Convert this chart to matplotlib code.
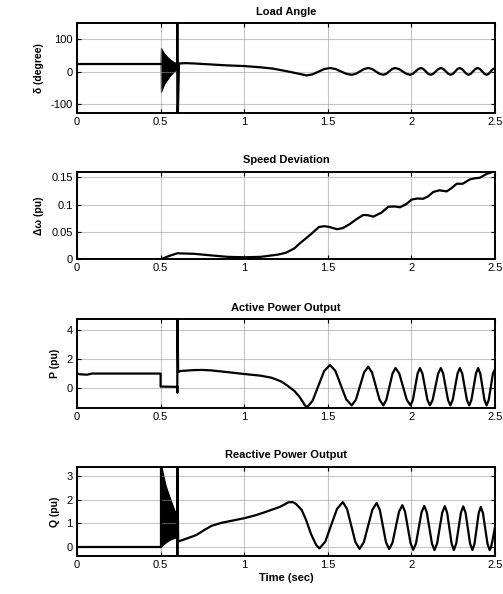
import matplotlib
matplotlib.use("Agg")
import matplotlib.pyplot as plt

plt.rcParams['font.family'] = ['Liberation Sans', 'DejaVu Sans']

# ---------------- data ----------------
x_ticks = [0, 0.5, 1, 1.5, 2, 2.5]
x_tick_labels = ["0", "0.5", "1", "1.5", "2", "2.5"]

titles = ["Load Angle", "Speed Deviation", "Active Power Output", "Reactive Power Output"]
ylabels = ["\u03b4 (degree)", "\u0394\u03c9 (pu)", "P (pu)", "Q (pu)"]
xlabel = "Time (sec)"

# Load angle
delta_t_pre = [0, 0.5]
delta_pre = [24, 24]
delta_t_fault = [0.5, 0.502, 0.52, 0.54, 0.56, 0.58, 0.6]
delta_fault_hi = [24, 73, 57, 45, 36, 29, 25]
delta_fault_lo = [24, -63, -40, -24, -10, 0, 10]
delta_t_post = [0.6, 0.6, 0.6, 0.61, 0.65, 0.7, 0.8, 0.9, 1.0, 1.1, 1.174, 1.274,
                1.374, 1.409, 1.4435, 1.478, 1.513, 1.5455, 1.578, 1.6105,
                1.643, 1.668, 1.6925, 1.717, 1.742, 1.7645, 1.787, 1.8095,
                1.832, 1.8495, 1.867, 1.8845, 1.902, 1.925, 1.9475, 1.970,
                1.993, 2.009, 2.025, 2.041, 2.057, 2.0715, 2.086, 2.1005,
                2.115, 2.1305, 2.146, 2.1615, 2.177, 2.1915, 2.206, 2.2205,
                2.235, 2.2485, 2.262, 2.2755, 2.289, 2.302, 2.3155, 2.329,
                2.342, 2.3555, 2.369, 2.3825, 2.396, 2.4095, 2.423, 2.4365,
                2.45, 2.4625, 2.475, 2.4875, 2.5]
delta_post = [25, 200, -200, 25, 26, 25, 22, 19, 17, 13, 9, -1,
              -12, -8.6, -0.5, 7.6, 11, 7.9, 0.5, -6.9,
              -10, -6.9, 0.5, 7.9, 11, 7.9, 0.5, -6.9,
              -10, -6.9, 0.5, 7.9, 11, 7.9, 0.5, -6.9,
              -10, -6.9, 0.5, 7.9, 11, 7.9, 0.5, -6.9,
              -10, -6.9, 0.5, 7.9, 11, 7.9, 0.5, -6.9,
              -10, -6.9, 0.5, 7.9, 11, 7.9, 0.5, -6.9,
              -10, -6.9, 0.5, 7.9, 11, 7.9, 0.5, -6.9,
              -10, -6.9, 0.5, 7.9, 10.5]

# Speed deviation
speed_t = [0, 0.5, 0.55, 0.6, 0.65, 0.7, 0.8, 0.9, 1.0, 1.1, 1.2, 1.25, 1.3, 1.334,
           1.4, 1.447, 1.48, 1.51, 1.555, 1.59, 1.63, 1.67, 1.712, 1.74, 1.772, 1.82,
           1.862, 1.9, 1.932, 1.97, 2.001, 2.035, 2.07, 2.1, 2.131, 2.167, 2.211,
           2.24, 2.271, 2.307, 2.35, 2.38, 2.41, 2.45, 2.48, 2.5]
speed = [0, 0, 0.006, 0.011, 0.0105, 0.010, 0.0072, 0.0045, 0.0037, 0.0045, 0.0085,
         0.012, 0.02, 0.0295, 0.046, 0.059, 0.0605, 0.059, 0.055, 0.057, 0.064,
         0.073, 0.081, 0.0805, 0.078, 0.085, 0.096, 0.0965, 0.095, 0.101, 0.109,
         0.111, 0.1105, 0.115, 0.123, 0.126, 0.124, 0.13, 0.138, 0.138, 0.146,
         0.148, 0.149, 0.156, 0.159, 0.161]

# Active power
p_t_pre = [0, 0.02, 0.06, 0.09, 0.5, 0.5, 0.6]
p_pre = [1.0, 0.95, 0.92, 1.0, 1.0, 0.1, 0.08]
p_t_post = [0.6, 0.6, 0.6, 0.605, 0.62, 0.65, 0.7, 0.75, 0.8, 0.9, 1.0, 1.1, 1.164,
            1.224, 1.26, 1.3, 1.33, 1.35, 1.363, 1.374, 1.385, 1.409, 1.4435, 1.478,
            1.513, 1.5455, 1.578, 1.6105, 1.643, 1.668, 1.6925, 1.717,
            1.742, 1.7645, 1.787, 1.8095, 1.832, 1.850, 1.8685, 1.887,
            1.905, 1.9275, 1.95, 1.9725, 1.995, 2.009, 2.023, 2.037,
            2.051, 2.066, 2.081, 2.096, 2.111, 2.127, 2.1435, 2.16,
            2.176, 2.190, 2.2045, 2.219, 2.233, 2.247, 2.2615, 2.276,
            2.29, 2.304, 2.318, 2.332, 2.346, 2.359, 2.3725, 2.386,
            2.399, 2.412, 2.4245, 2.437, 2.45, 2.4625, 2.475, 2.4875, 2.5]
p_post = [0.08, -0.3, 6, 1.1, 1.18, 1.2, 1.24, 1.25, 1.22, 1.1, 0.97, 0.85, 0.71,
          0.44, 0.15, -0.2, -0.6, -0.95, -1.2, -1.3, -1.22, -0.877, 0.145, 1.167,
          1.59, 1.181, 0.195, -0.791, -1.2, -0.809, 0.135, 1.079,
          1.47, 1.079, 0.135, -0.809, -1.2, -0.822, 0.09, 1.002,
          1.38, 1.002, 0.09, -0.822, -1.2, -0.822, 0.09, 1.002,
          1.38, 1.002, 0.09, -0.822, -1.2, -0.822, 0.09, 1.002,
          1.38, 1.002, 0.09, -0.822, -1.2, -0.822, 0.09, 1.002,
          1.38, 1.002, 0.09, -0.822, -1.2, -0.822, 0.09, 1.002,
          1.38, 1.002, 0.09, -0.822, -1.2, -0.822, 0.09, 1.0, 1.3]

# Reactive power
q_t_pre = [0, 0.5, 0.5]
q_pre = [0.03, 0.03, 3.6]
q_t_fault = [0.5, 0.505, 0.516, 0.53, 0.556, 0.586, 0.6]
q_fault_hi = [3.6, 3.4, 3.04, 2.6, 2.06, 1.5, 1.3]
q_fault_lo = [0.0, 0.05, 0.11, 0.2, 0.32, 0.4, 0.45]
q_t_post = [0.6, 0.6, 0.6, 0.605, 0.65, 0.716, 0.76, 0.805, 0.86, 0.915, 1.0, 1.07,
            1.134, 1.214, 1.264, 1.29, 1.31, 1.344, 1.37, 1.40, 1.43,
            1.45, 1.485, 1.52, 1.555, 1.59, 1.615, 1.64, 1.665,
            1.69, 1.7155, 1.741, 1.7665, 1.792, 1.811, 1.8295, 1.848,
            1.867, 1.887, 1.9065, 1.926, 1.946, 1.962, 1.9785, 1.995,
            2.011, 2.0275, 2.044, 2.0605, 2.077, 2.092, 2.1075, 2.123,
            2.138, 2.1535, 2.169, 2.1845, 2.20, 2.2135, 2.227, 2.2405,
            2.254, 2.268, 2.282, 2.296, 2.31, 2.324, 2.3375, 2.351,
            2.365, 2.3775, 2.39, 2.4025, 2.415, 2.428, 2.4415, 2.455,
            2.468, 2.476, 2.484, 2.492, 2.5]
q_post = [0.45, -1, 4, 0.24, 0.35, 0.52, 0.72, 0.9, 1.02, 1.1, 1.22, 1.35,
          1.5, 1.7, 1.89, 1.9, 1.82, 1.57, 1.15, 0.55, 0.1,
          -0.05, 0.236, 0.925, 1.614, 1.9, 1.611, 0.915, 0.219,
          -0.07, 0.213, 0.895, 1.577, 1.86, 1.576, 0.89, 0.204,
          -0.08, 0.191, 0.845, 1.499, 1.77, 1.495, 0.83, 0.165,
          -0.11, 0.161, 0.815, 1.469, 1.74, 1.468, 0.81, 0.152,
          -0.12, 0.151, 0.805, 1.459, 1.73, 1.459, 0.805, 0.151,
          -0.12, 0.15, 0.8, 1.45, 1.72, 1.45, 0.8, 0.15,
          -0.12, 0.147, 0.79, 1.433, 1.7, 1.433, 0.79, 0.147,
          -0.12, 0.0, 0.25, 0.55, 0.85]

y_limits = [(-128, 150), (0, 0.16), (-1.36, 4.75), (-0.37, 3.39)]
y_ticks = [[-100, 0, 100], [0, 0.05, 0.1, 0.15], [0, 2, 4], [0, 1, 2, 3]]
y_tick_labels = [["-100", "0", "100"], ["0", "0.05", "0.1", "0.15"],
                 ["0", "2", "4"], ["0", "1", "2", "3"]]

# ---------------- plot ----------------
W, H = 503, 594
fig = plt.figure(figsize=(W / 100, H / 100), dpi=100)

# axes boxes in pixels (left, top, right, bottom)
boxes = [(77, 23, 495, 113), (77, 171.7, 495, 259.3),
         (77, 319.3, 495, 407.7), (77, 466.7, 495, 556)]

LW = 1.6
axes = []
for i, (l, t, r, b) in enumerate(boxes):
    ax = fig.add_axes([l / W, 1 - b / H, (r - l) / W, (b - t) / H])
    axes.append(ax)
    ax.set_xlim(0, 2.5)
    ax.set_ylim(*y_limits[i])
    ax.set_xticks(x_ticks)
    ax.set_xticklabels(x_tick_labels)
    ax.set_yticks(y_ticks[i])
    ax.set_yticklabels(y_tick_labels[i])
    ax.grid(True, color='0.6', linestyle=(0, (1, 0.8)), linewidth=0.8)
    ax.tick_params(direction='in', length=3, width=0.8, labelsize=8,
                   top=True, right=True, pad=3, colors='black')
    for s in ax.spines.values():
        s.set_linewidth(1.4)
        s.set_zorder(5)
    ax.set_title(titles[i], fontsize=8, fontweight='bold', pad=6)
    ax.set_ylabel(ylabels[i], fontsize=7.5, fontweight='bold', labelpad=5)

ax = axes[0]
ax.plot(delta_t_pre, delta_pre, color='k', lw=LW)
ax.fill_between(delta_t_fault, delta_fault_lo, delta_fault_hi, color='k', lw=0.8)
ax.plot(delta_t_post, delta_post, color='k', lw=LW)

ax = axes[1]
ax.plot(speed_t, speed, color='k', lw=LW)

ax = axes[2]
ax.plot(p_t_pre, p_pre, color='k', lw=LW)
ax.plot(p_t_post, p_post, color='k', lw=LW)

ax = axes[3]
ax.plot(q_t_pre, q_pre, color='k', lw=LW)
ax.fill_between(q_t_fault, q_fault_lo, q_fault_hi, color='k', lw=0.8)
ax.plot(q_t_post, q_post, color='k', lw=LW)
ax.set_xlabel(xlabel, fontsize=8, fontweight='bold', labelpad=2)

fig.savefig("out.png", dpi=100)
